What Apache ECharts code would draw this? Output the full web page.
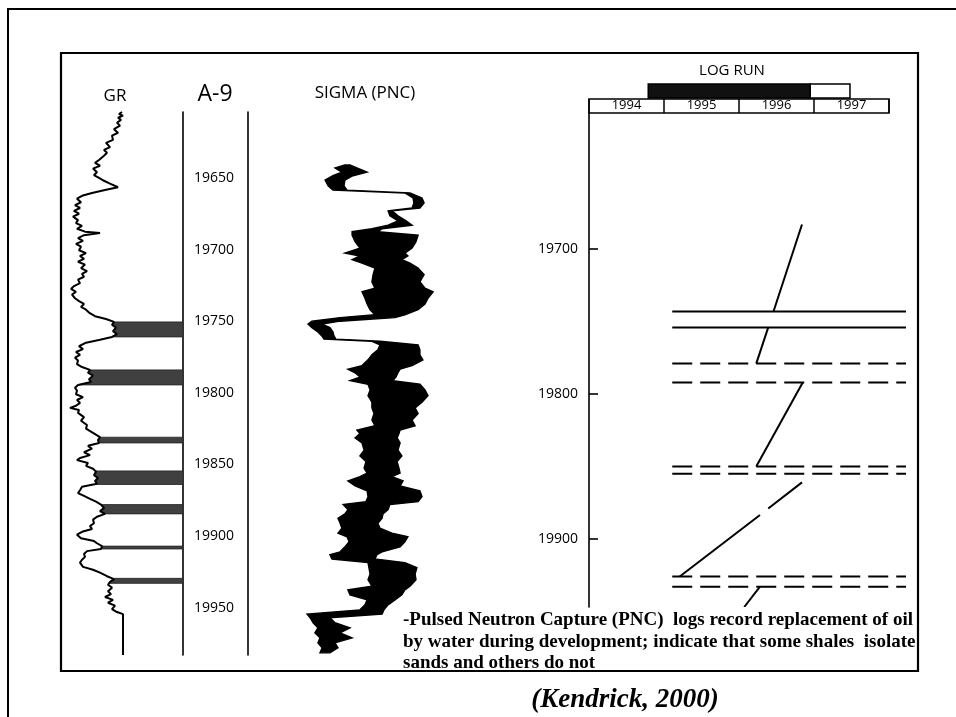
<!DOCTYPE html>
<html><head><meta charset="utf-8">
<script src="https://cdn.jsdelivr.net/npm/echarts@6/dist/echarts.min.js"></script>
<style>html,body{margin:0;padding:0;background:#fff}#c{width:956px;height:717px}</style>
</head><body><div id="c"></div>
<script>
// ---- data ----
const depthTicks = [19650, 19700, 19750, 19800, 19850, 19900, 19950];
const runDepthTicks = [19700, 19800, 19900];
const years = ['1994', '1995', '1996', '1997'];

// GR log (depth ft, GR units)
const grDepth = [19604,19605.5,19606.5,19608,19609.5,19611.5,19613.5,19616,19618.5,19620.5,19623.5,19625.5,19628.5,19630.5,19632.5,19634.5,19637.5,19639.5,19641.5,19643.5,19646,19648,19650,19652,19654,19656.5,19658.5,19660.5,19662.5,19664.5,19667,19669,19671,19673,19675,19677,19679.5,19681.5,19683.5,19685.5,19687.5,19688.5,19690,19692,19694,19696,19698,19700.5,19702.5,19704.5,19706.5,19708.5,19710.5,19713,19715,19717,19719,19721,19723.5,19725.5,19727.5,19729.5,19731.5,19734,19736,19738,19740,19742,19744,19746.5,19748.5,19750.5,19752.5,19754.5,19757,19759,19761,19763,19765,19767.5,19769.5,19771.5,19773.5,19775.5,19777.5,19780,19782,19784,19786,19788,19790.5,19792.5,19794.5,19796.5,19798.5,19801,19803,19805,19807,19809,19810.5,19812,19814,19817,19819.5,19822.5,19825,19828,19831,19833,19835,19837,19839,19841.5,19843.5,19845.5,19847,19849,19851,19853,19855,19857.5,19859.5,19861.5,19863.5,19865.5,19868,19870,19872,19874,19876,19878,19880.5,19882.5,19884.5,19886.5,19888.5,19891,19893,19895,19897,19899,19901.5,19903.5,19905,19907,19909,19910.5,19912.5,19914.5,19916.5,19918.5,19921.5,19923.5,19925.5,19928,19930,19932,19934,19936,19938.5,19940.5,19942.5,19944.5,19946.5,19948.5,19951,19953,19954.5,19983];
const grValue = [64,61,65,60,63,59,62,56,60,54,55,48,52,46,49,46,41,37,42,35,39,36,41,46,52,60,47,34,24,19,23,17,22,16,21,15,20,18,24,19,27,42,26,20,25,18,23,21,28,22,26,20,27,23,29,24,26,20,22,16,13,18,14,17,21,26,23,28,31,37,48,56,54,58,55,59,54,42,28,21,25,18,22,17,20,19,24,32,30,35,31,33,20,17,19,18,25,19,22,18,12,21,20,26,23,29,28,35,42,40,41,30,34,26,32,22,19,30,28,35,38,36,40,37,39,24,22,20,26,32,38,43,46,42,47,39,35,36,32,34,24,19,23,36,39,44,43,29,26,27,24,22,25,35,42,49,56,52,50,54,50,53,47,55,50,57,54,59,65,65];
// shaded shale intervals [top, bottom]
const grBands = [[19750.5,19761],[19784,19794.5],[19831,19835],[19854.5,19864],[19878,19884.5],[19907,19909],[19929.5,19933]];

// SIGMA (PNC) envelope (depth ft, left c.u., right c.u.)
const sigmaDepth = [19641,19643,19646,19648.5,19651.5,19655.5,19658.5,19660.5,19664,19667.5,19671,19673,19676.5,19680,19683,19685.5,19687.5,19690,19694.5,19699,19702.5,19704.5,19707,19709.5,19713,19717.5,19722.5,19727,19729.5,19734,19738,19742,19745.5,19747.5,19750,19752,19754.5,19757.5,19760.5,19762.5,19764,19766.5,19770,19773.5,19777,19781,19783.5,19786,19789,19791.5,19794,19798,19802,19806.5,19810.5,19814.5,19819,19823,19826,19828.5,19831.5,19835,19840,19844,19848,19852.5,19856,19858.5,19861.5,19865,19868.5,19872.5,19876,19878,19881.5,19884.5,19887.5,19891,19894.5,19898,19900.5,19904,19907.5,19911,19913,19916,19918.5,19922,19926.5,19930.5,19935,19937.5,19941,19944.5,19948,19951.5,19954.5,19957,19960.5,19964,19967.5,19971,19974.5,19978,19981.5];
const sigmaLeft = [18.3,15.0,17.3,14.3,11.7,12.7,14.3,38.3,41.0,41.3,40.7,32.7,33.3,36.0,32.7,27.3,20.7,20.7,21.7,23.3,18.3,23.3,20.7,24.0,28.3,27.7,27.3,28.3,24.0,25.0,25.7,26.7,28.3,16.7,7.3,6.0,7.3,9.3,10.7,11.3,27.3,30.0,29.3,27.3,26.0,24.0,19.3,21.7,23.3,20.0,26.0,26.7,26.0,27.3,27.3,28.0,27.3,28.3,22.3,23.3,21.7,24.0,24.7,23.3,25.3,24.7,25.7,23.3,19.3,21.7,25.7,26.0,25.3,17.7,19.3,18.3,16.0,16.7,17.3,16.0,19.0,19.7,18.3,16.7,13.3,14.0,26.0,26.3,26.7,26.0,27.3,19.3,20.0,25.7,25.0,23.3,5.7,6.7,7.7,9.3,8.3,10.0,9.3,10.7,10.0];
const sigmaRight = [20.0,22.3,25.7,21.0,18.3,18.0,19.0,40.0,44.0,44.7,43.3,34.0,36.0,38.7,40.7,30.7,29.3,42.7,42.0,40.7,38.3,39.3,37.3,40.0,42.7,44.7,43.3,45.0,47.7,46.0,45.0,42.7,38.3,35.0,16.7,10.7,13.3,14.3,14.7,15.3,30.0,42.7,43.3,43.3,44.3,40.7,36.7,36.0,35.3,34.3,43.3,45.0,46.0,44.0,41.7,42.7,40.7,41.7,36.7,36.3,35.7,36.7,36.0,37.3,35.7,36.3,36.7,34.0,37.7,36.7,43.3,44.0,42.7,33.3,32.7,31.0,30.7,29.3,30.0,34.0,39.3,38.3,36.7,30.7,29.0,28.3,38.3,42.3,41.7,42.0,40.0,38.3,37.3,35.0,32.7,31.3,30.7,13.3,15.0,20.0,16.7,20.7,15.0,16.0,13.3];

// LOG RUN panel
const logRuns = [[1994.79, 1996.95, 0], [1996.95, 1997.48, 1]];   // logged period, remaining
const contactStart = 1995.11;
const solidContacts = [19743, 19754];
const dashedContacts = [19779, 19792, 19850, 19855, 19926, 19933];
const fluidFronts = [
  [1996.84, 19683, 1996.46, 19743],
  [1996.39, 19754, 1996.23, 19779],
  [1996.85, 19792, 1996.23, 19850],
  [1996.84, 19861, 1996.39, 19879],
  [1996.28, 19883.5, 1995.21, 19926],
  [1996.28, 19933, 1996.07, 19947]
];

// ---- chart ----
const chart = echarts.init(document.getElementById('c'), null, {renderer: 'canvas'});
const SANS = '"Open Sans", sans-serif';
const SERIF = '"Liberation Serif", "Times New Roman", serif';
const hidden = {show: false};
const plain = v => String(v);

const option = {
  animation: false,
  backgroundColor: '#fff',
  grid: [
    {left: 58, top: 112, width: 125, height: 543},
    {left: 183, top: 112, width: 65, height: 543},
    {left: 290, top: 112, width: 180, height: 543},
    {left: 589, top: 113, width: 317, height: 494},
    {left: 589, top: 99, width: 300, height: 14, show: true, borderColor: '#000', borderWidth: 1.5, backgroundColor: 'transparent'},
    {left: 589, top: 84, width: 317, height: 14}
  ],
  xAxis: [
    {gridIndex: 0, type: 'value', min: 0, max: 125, ...hidden},
    {gridIndex: 1, type: 'value', min: 0, max: 1, ...hidden},
    {gridIndex: 2, type: 'value', min: 0, max: 60, ...hidden},
    {gridIndex: 3, type: 'value', min: 1994, max: 1998.227, ...hidden},
    {gridIndex: 4, type: 'category', data: years, position: 'bottom',
      axisLine: {show: false}, axisTick: {show: false},
      splitLine: {show: true, interval: 0, lineStyle: {color: '#000', width: 1.5}},
      axisLabel: {inside: true, margin: 1, fontSize: 13, color: '#000', fontFamily: SANS, interval: 0}},
    {gridIndex: 5, type: 'value', min: 1994, max: 1998.227, ...hidden}
  ],
  yAxis: [
    {gridIndex: 0, type: 'value', min: 19604, max: 19983, inverse: true, ...hidden},
    {gridIndex: 1, type: 'value', min: 19604, max: 19983, inverse: true, position: 'left',
      axisLine: {show: true, lineStyle: {color: '#000', width: 1.6}},
      axisTick: {show: false}, splitLine: {show: false},
      axisLabel: {inside: true, margin: 11, fontSize: 14, color: '#000', fontFamily: SANS, customValues: depthTicks, formatter: plain}},
    {gridIndex: 1, type: 'value', min: 19604, max: 19983, inverse: true, position: 'right',
      axisLine: {show: true, lineStyle: {color: '#000', width: 1.6}},
      axisTick: {show: false}, splitLine: {show: false}, axisLabel: {show: false}},
    {gridIndex: 2, type: 'value', min: 19604, max: 19983, inverse: true, ...hidden},
    {gridIndex: 3, type: 'value', min: 19606, max: 19947, inverse: true, position: 'left',
      axisLine: {show: true, lineStyle: {color: '#000', width: 1.6}},
      axisTick: {show: true, inside: true, length: 9, lineStyle: {color: '#000', width: 1.6}, customValues: runDepthTicks},
      splitLine: {show: false},
      axisLabel: {margin: 11, fontSize: 14, color: '#000', fontFamily: SANS, customValues: runDepthTicks, formatter: plain}},
    {gridIndex: 4, type: 'value', min: 0, max: 1, ...hidden},
    {gridIndex: 5, type: 'value', min: 0, max: 1, ...hidden}
  ],
  series: [
    {
      type: 'custom', name: 'shale', xAxisIndex: 0, yAxisIndex: 0, clip: true,
      encode: {x: 0, y: [1, 2]},
      data: grBands.map(b => [0, b[0], b[1]]),
      renderItem: function (params, api) {
        const top = api.value(1), bot = api.value(2);
        const idx = [];
        for (let i = 0; i < grDepth.length; i++) if (grDepth[i] >= top && grDepth[i] <= bot) idx.push(i);
        if (!idx.length) return null;
        const cs = params.coordSys;
        const pts = [api.coord([grValue[idx[0]], top])];
        idx.forEach(i => pts.push(api.coord([grValue[i], grDepth[i]])));
        pts.push(api.coord([grValue[idx[idx.length - 1]], bot]));
        pts.push([cs.x + cs.width, api.coord([0, bot])[1]]);
        pts.push([cs.x + cs.width, api.coord([0, top])[1]]);
        return {type: 'polygon', shape: {points: pts}, style: {fill: '#404040', stroke: '#222', lineWidth: 0.8}};
      }
    },
    {
      type: 'line', name: 'GR', xAxisIndex: 0, yAxisIndex: 0,
      data: grDepth.map((d, i) => [grValue[i], d]),
      showSymbol: false, symbol: 'none',
      lineStyle: {color: '#000', width: 2}
    },
    {
      type: 'custom', name: 'SIGMA', xAxisIndex: 2, yAxisIndex: 3, clip: true,
      encode: {x: [0, 2], y: 1},
      data: sigmaDepth.map((d, i) => [sigmaLeft[i], d, sigmaRight[i]]),
      renderItem: function (params, api) {
        if (params.dataIndex !== 0) return null;
        const pts = [];
        for (let i = 0; i < sigmaDepth.length; i++) pts.push(api.coord([sigmaLeft[i], sigmaDepth[i]]));
        for (let i = sigmaDepth.length - 1; i >= 0; i--) pts.push(api.coord([sigmaRight[i], sigmaDepth[i]]));
        return {type: 'polygon', shape: {points: pts}, style: {fill: '#000', stroke: '#000', lineWidth: 1.4}};
      }
    },
    {
      type: 'custom', name: 'solid contacts', xAxisIndex: 3, yAxisIndex: 4,
      encode: {x: 0, y: 1},
      data: solidContacts.map(d => [contactStart, d]),
      renderItem: function (params, api) {
        const cs = params.coordSys;
        const p = api.coord([api.value(0), api.value(1)]);
        return {type: 'line', shape: {x1: p[0], y1: p[1], x2: cs.x + cs.width, y2: p[1]}, style: {stroke: '#000', lineWidth: 2}};
      }
    },
    {
      type: 'custom', name: 'dashed contacts', xAxisIndex: 3, yAxisIndex: 4,
      encode: {x: 0, y: 1},
      data: dashedContacts.map(d => [contactStart, d]),
      renderItem: function (params, api) {
        const cs = params.coordSys;
        const p = api.coord([api.value(0), api.value(1)]);
        return {type: 'line', shape: {x1: p[0], y1: p[1], x2: cs.x + cs.width, y2: p[1]}, style: {stroke: '#000', lineWidth: 2, lineDash: [20, 8]}};
      }
    },
    {
      type: 'custom', name: 'fronts', xAxisIndex: 3, yAxisIndex: 4, clip: true,
      encode: {x: [0, 2], y: [1, 3]},
      data: fluidFronts,
      renderItem: function (params, api) {
        const a = api.coord([api.value(0), api.value(1)]);
        const b = api.coord([api.value(2), api.value(3)]);
        return {type: 'line', shape: {x1: a[0], y1: a[1], x2: b[0], y2: b[1]}, style: {stroke: '#000', lineWidth: 2}};
      }
    },
    {
      type: 'custom', name: 'log run', xAxisIndex: 5, yAxisIndex: 6,
      encode: {x: [0, 1]},
      data: logRuns,
      renderItem: function (params, api) {
        const cs = params.coordSys;
        const a = api.coord([api.value(0), 0]);
        const b = api.coord([api.value(1), 0]);
        const planned = api.value(2) === 1;
        return {type: 'rect', shape: {x: a[0], y: cs.y, width: b[0] - a[0], height: cs.height},
          style: {fill: planned ? '#fff' : '#111', stroke: '#000', lineWidth: 1.5}};
      }
    }
  ],
  graphic: [
    {type: 'polyline', shape: {points: [[8, 717], [8, 9], [956, 9]]}, style: {stroke: '#000', lineWidth: 2, fill: null}, z: 10},
    {type: 'rect', shape: {x: 61, y: 53, width: 857, height: 618}, style: {stroke: '#000', lineWidth: 2.2, fill: null}, z: 10},
    {type: 'text', x: 115, y: 96, style: {text: 'GR', font: '17px ' + SANS, textAlign: 'center', textVerticalAlign: 'middle', fill: '#000'}, z: 10},
    {type: 'text', x: 215, y: 94, style: {text: 'A-9', font: '23px ' + SANS, textAlign: 'center', textVerticalAlign: 'middle', fill: '#000'}, z: 10},
    {type: 'text', x: 365, y: 93, style: {text: 'SIGMA (PNC)', font: '17px ' + SANS, textAlign: 'center', textVerticalAlign: 'middle', fill: '#000'}, z: 10},
    {type: 'text', x: 732, y: 71, style: {text: 'LOG RUN', font: '15px ' + SANS, textAlign: 'center', textVerticalAlign: 'middle', fill: '#000'}, z: 10},
    {type: 'text', x: 403, y: 620, style: {text: '-Pulsed Neutron Capture (PNC)  logs record replacement of oil', font: 'bold 19px ' + SERIF, textAlign: 'left', textVerticalAlign: 'middle', fill: '#000'}, z: 10},
    {type: 'text', x: 403, y: 642, style: {text: 'by water during development; indicate that some shales  isolate', font: 'bold 19px ' + SERIF, textAlign: 'left', textVerticalAlign: 'middle', fill: '#000'}, z: 10},
    {type: 'text', x: 403, y: 663, style: {text: 'sands and others do not', font: 'bold 19px ' + SERIF, textAlign: 'left', textVerticalAlign: 'middle', fill: '#000'}, z: 10},
    {type: 'text', x: 625, y: 700, style: {text: '(Kendrick, 2000)', font: 'italic bold 27px ' + SERIF, textAlign: 'center', textVerticalAlign: 'middle', fill: '#000'}, z: 10}
  ]
};
chart.setOption(option);
</script>
</body></html>
